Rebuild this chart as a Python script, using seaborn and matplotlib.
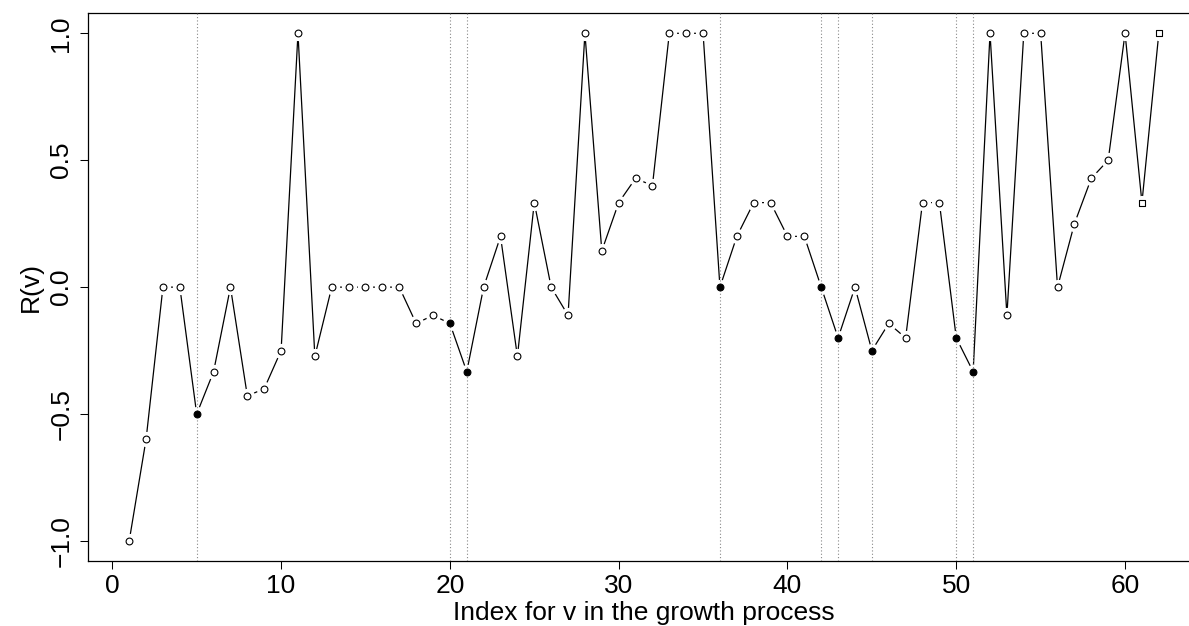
import matplotlib

matplotlib.use("Agg")

import matplotlib.pyplot as plt
import pandas as pd
import seaborn as sns


index = list(range(1, 63))
r_values = [
    -1.0, -0.6, 0.0, 0.0, -0.5, -0.333, 0.0, -0.4286, -0.4, -0.25,
    1.0, -0.2727, 0.0, 0.0, 0.0, 0.0, 0.0, -0.1429, -0.1111, -0.1429,
    -0.333, 0.0, 0.2, -0.2727, 0.333, 0.0, -0.1111, 1.0, 0.1429, 0.333,
    0.4286, 0.4, 1.0, 1.0, 1.0, 0.0, 0.2, 0.333, 0.333, 0.2,
    0.2, 0.0, -0.2, 0.0, -0.25, -0.1429, -0.2, 0.333, 0.333, -0.2,
    -0.333, 1.0, -0.1111, 1.0, 1.0, 0.0, 0.25, 0.4286, 0.5, 1.0,
    0.333, 1.0,
]
# indices where the point is drawn filled (also marked with a dotted line)
filled_index = [5, 20, 21, 36, 42, 43, 45, 50, 51]
# last points drawn as squares
square_index = [61, 62]
x_ticks = [0, 10, 20, 30, 40, 50, 60]
y_ticks = [-1.0, -0.5, 0.0, 0.5, 1.0]
y_tick_labels = ["\u22121.0", "\u22120.5", "0.0", "0.5", "1.0"]


def main() -> None:
    sns.set_theme(style="white")
    plt.rcParams["font.family"] = ["Liberation Sans", "DejaVu Sans"]

    df = pd.DataFrame({"index": index, "r": r_values})
    df["kind"] = "open"
    df.loc[df["index"].isin(filled_index), "kind"] = "filled"
    df.loc[df["index"].isin(square_index), "kind"] = "square"

    fig = plt.figure(figsize=(11.89, 6.26), dpi=100)
    ax = fig.add_axes([88 / 1189, 64.7 / 626, 1112 / 1189, 548.3 / 626])

    sns.lineplot(data=df, x="index", y="r", color="black", linewidth=0.9,
                 ax=ax, zorder=1, sort=False)
    # white halo so line stops short of each point
    sns.scatterplot(data=df, x="index", y="r", s=120, color="white",
                    linewidth=0, ax=ax, zorder=2, legend=False)

    for xv in filled_index:
        ax.axvline(xv, color="#888888", linestyle=(0, (1, 2)), linewidth=0.8, zorder=3)

    open_pts = df[df["kind"] == "open"]
    filled_pts = df[df["kind"] == "filled"]
    square_pts = df[df["kind"] == "square"]
    sns.scatterplot(data=open_pts, x="index", y="r", s=24, marker="o",
                    facecolor="white", edgecolor="black", linewidth=0.8,
                    ax=ax, zorder=4, legend=False)
    sns.scatterplot(data=filled_pts, x="index", y="r", s=24, marker="o",
                    color="black", edgecolor="black", linewidth=0.8,
                    ax=ax, zorder=4, legend=False)
    sns.scatterplot(data=square_pts, x="index", y="r", s=24, marker="s",
                    facecolor="white", edgecolor="black", linewidth=0.8,
                    ax=ax, zorder=4, legend=False)

    ax.set_xlim(-1.44, 64.44)
    ax.set_ylim(-1.08, 1.08)
    ax.set_xticks(x_ticks)
    ax.set_yticks(y_ticks)
    ax.set_yticklabels(y_tick_labels, rotation=90, va="center")
    ax.tick_params(axis="both", which="both", direction="out", length=5.5,
                   width=0.75, color="black", labelsize=19, labelcolor="black",
                   bottom=True, left=True)
    ax.tick_params(axis="x", pad=3.5)
    ax.tick_params(axis="y", pad=5)
    for spine in ax.spines.values():
        spine.set_color("black")
        spine.set_linewidth(0.9)
    ax.set_xlabel("Index for v in the growth process", fontsize=19,
                  color="black", labelpad=2.5)
    ax.set_ylabel("R(v)", fontsize=19, color="black", labelpad=5)

    fig.savefig("out.png", dpi=100)
    plt.close(fig)


if __name__ == "__main__":
    main()
